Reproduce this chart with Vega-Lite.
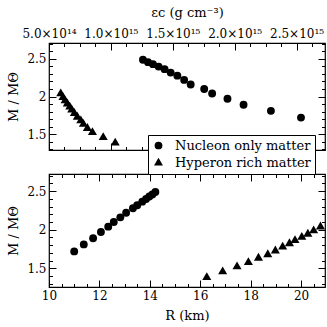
{
  "$schema": "https://vega.github.io/schema/vega-lite/v6.json",
  "padding": {"left": 7, "top": 5, "right": 0, "bottom": 3},
  "background": "white",
  "config": {
    "font": "DejaVu Serif",
    "view": {"stroke": "black", "strokeWidth": 1.2},
    "axis": {"domain": false, "grid": false, "labelFont": "DejaVu Serif", "labelFontSize": 12, "labelColor": "black", "titleFont": "DejaVu Serif", "titleFontSize": 13, "titleFontWeight": "normal", "titleColor": "black", "tickColor": "black", "tickWidth": 1, "labelOverlap": false, "labelFlush": false},
    "legend": {"labelFont": "DejaVu Serif"}
  },
  "data": {"values": [
    {"matter": "Nucleon only matter", "M": 1.72, "eps": 2.536e15, "R": 11.0},
    {"matter": "Nucleon only matter", "M": 1.81, "eps": 2.293e15, "R": 11.38},
    {"matter": "Nucleon only matter", "M": 1.89, "eps": 2.072e15, "R": 11.75},
    {"matter": "Nucleon only matter", "M": 1.97, "eps": 1.942e15, "R": 12.06},
    {"matter": "Nucleon only matter", "M": 2.04, "eps": 1.818e15, "R": 12.35},
    {"matter": "Nucleon only matter", "M": 2.10, "eps": 1.754e15, "R": 12.57},
    {"matter": "Nucleon only matter", "M": 2.16, "eps": 1.645e15, "R": 12.83},
    {"matter": "Nucleon only matter", "M": 2.22, "eps": 1.592e15, "R": 13.06},
    {"matter": "Nucleon only matter", "M": 2.277, "eps": 1.537e15, "R": 13.33},
    {"matter": "Nucleon only matter", "M": 2.317, "eps": 1.483e15, "R": 13.5},
    {"matter": "Nucleon only matter", "M": 2.363, "eps": 1.434e15, "R": 13.7},
    {"matter": "Nucleon only matter", "M": 2.397, "eps": 1.386e15, "R": 13.85},
    {"matter": "Nucleon only matter", "M": 2.429, "eps": 1.34e15, "R": 13.98},
    {"matter": "Nucleon only matter", "M": 2.456, "eps": 1.30e15, "R": 14.1},
    {"matter": "Nucleon only matter", "M": 2.487, "eps": 1.259e15, "R": 14.22},
    {"matter": "Hyperon rich matter", "M": 1.39, "eps": 1.035e15, "R": 16.26},
    {"matter": "Hyperon rich matter", "M": 1.464, "eps": 9.38e14, "R": 16.89},
    {"matter": "Hyperon rich matter", "M": 1.53, "eps": 8.51e14, "R": 17.46},
    {"matter": "Hyperon rich matter", "M": 1.584, "eps": 8.1e14, "R": 17.91},
    {"matter": "Hyperon rich matter", "M": 1.64, "eps": 7.78e14, "R": 18.31},
    {"matter": "Hyperon rich matter", "M": 1.686, "eps": 7.57e14, "R": 18.68},
    {"matter": "Hyperon rich matter", "M": 1.734, "eps": 7.29e14, "R": 18.98},
    {"matter": "Hyperon rich matter", "M": 1.784, "eps": 7.05e14, "R": 19.27},
    {"matter": "Hyperon rich matter", "M": 1.828, "eps": 6.84e14, "R": 19.54},
    {"matter": "Hyperon rich matter", "M": 1.869, "eps": 6.68e14, "R": 19.76},
    {"matter": "Hyperon rich matter", "M": 1.91, "eps": 6.48e14, "R": 20.03},
    {"matter": "Hyperon rich matter", "M": 1.951, "eps": 6.3e14, "R": 20.27},
    {"matter": "Hyperon rich matter", "M": 1.995, "eps": 6.13e14, "R": 20.5},
    {"matter": "Hyperon rich matter", "M": 2.045, "eps": 5.95e14, "R": 20.77}
  ]},
  "spacing": 12,
  "vconcat": [
    {
      "width": 276,
      "height": 107,
      "layer": [
        {
          "mark": {"type": "point", "filled": true, "opacity": 1, "color": "black", "size": 62},
          "encoding": {
            "x": {"field": "eps", "type": "quantitative", "scale": {"domain": [5e14, 2.73e15], "nice": false, "zero": false},
              "axis": {"orient": "top", "title": "εc (g cm⁻³)", "titlePadding": 4, "labelPadding": 10,
                "values": [5e14, 6.25e14, 7.5e14, 8.75e14, 1e15, 1.125e15, 1.25e15, 1.375e15, 1.5e15, 1.625e15, 1.75e15, 1.875e15, 2e15, 2.125e15, 2.25e15, 2.375e15, 2.5e15, 2.625e15],
                "labelExpr": "datum.value % 5e14 == 0 ? (datum.value < 1e15 ? format(datum.value/1e14, '.1f') + '×10¹⁴' : format(datum.value/1e15, '.1f') + '×10¹⁵') : ''",
                "tickSize": {"condition": {"test": "datum.value % 5e14 == 0", "value": -7}, "value": -3.5}}},
            "y": {"field": "M", "type": "quantitative", "scale": {"domain": [1.29, 2.71], "nice": false, "zero": false},
              "axis": {"orient": "left", "title": "M / MΘ", "titlePadding": 6, "labelPadding": 10,
                "values": [1.3, 1.4, 1.5, 1.6, 1.7, 1.8, 1.9, 2.0, 2.1, 2.2, 2.3, 2.4, 2.5, 2.6, 2.7],
                "labelExpr": "datum.value * 2 == round(datum.value * 2) ? format(datum.value, '~g') : ''",
                "tickSize": {"condition": {"test": "datum.value * 2 == round(datum.value * 2)", "value": -7}, "value": -3.5}}},
            "shape": {"field": "matter", "type": "nominal",
              "scale": {"domain": ["Nucleon only matter", "Hyperon rich matter"], "range": ["circle", "M0,-1.2L1.15,0.8L-1.15,0.8Z"]},
              "legend": {"title": null, "orient": "none", "legendX": 99, "legendY": 92, "strokeColor": "black", "fillColor": "white", "padding": 4, "labelFontSize": 13, "labelColor": "black", "symbolFillColor": "black", "symbolStrokeColor": "black", "symbolSize": 60, "rowPadding": 1, "labelOffset": 10}}
          }
        },
        {
          "mark": {"type": "point", "opacity": 0},
          "encoding": {
            "x": {"field": "eps", "type": "quantitative", "scale": {"domain": [5e14, 2.73e15], "nice": false, "zero": false},
              "axis": {"orient": "bottom", "title": null, "labels": false,
                "values": [5e14, 6.25e14, 7.5e14, 8.75e14, 1e15, 1.125e15, 1.25e15, 1.375e15, 1.5e15, 1.625e15, 1.75e15, 1.875e15, 2e15, 2.125e15, 2.25e15, 2.375e15, 2.5e15, 2.625e15],
                "tickSize": {"condition": {"test": "datum.value % 5e14 == 0", "value": -7}, "value": -3.5}}},
            "y": {"field": "M", "type": "quantitative", "scale": {"domain": [1.29, 2.71], "nice": false, "zero": false},
              "axis": {"orient": "right", "title": null, "labels": false,
                "values": [1.3, 1.4, 1.5, 1.6, 1.7, 1.8, 1.9, 2.0, 2.1, 2.2, 2.3, 2.4, 2.5, 2.6, 2.7],
                "tickSize": {"condition": {"test": "datum.value * 2 == round(datum.value * 2)", "value": -7}, "value": -3.5}}}
          }
        }
      ],
      "resolve": {"axis": {"x": "independent", "y": "independent"}}
    },
    {
      "width": 276,
      "height": 113,
      "layer": [
        {
          "mark": {"type": "point", "filled": true, "opacity": 1, "color": "black", "size": 62},
          "encoding": {
            "x": {"field": "R", "type": "quantitative", "scale": {"domain": [10, 20.95], "nice": false, "zero": false},
              "axis": {"orient": "bottom", "title": "R (km)", "titlePadding": 5, "labelPadding": 10,
                "values": [10, 10.5, 11, 11.5, 12, 12.5, 13, 13.5, 14, 14.5, 15, 15.5, 16, 16.5, 17, 17.5, 18, 18.5, 19, 19.5, 20, 20.5],
                "labelExpr": "datum.value % 2 == 0 ? format(datum.value, 'd') : ''",
                "tickSize": {"condition": {"test": "datum.value % 2 == 0", "value": -7}, "value": -3.5}}},
            "y": {"field": "M", "type": "quantitative", "scale": {"domain": [1.26, 2.72], "nice": false, "zero": false},
              "axis": {"orient": "left", "title": "M / MΘ", "titlePadding": 6, "labelPadding": 10,
                "values": [1.3, 1.4, 1.5, 1.6, 1.7, 1.8, 1.9, 2.0, 2.1, 2.2, 2.3, 2.4, 2.5, 2.6, 2.7],
                "labelExpr": "datum.value * 2 == round(datum.value * 2) ? format(datum.value, '~g') : ''",
                "tickSize": {"condition": {"test": "datum.value * 2 == round(datum.value * 2)", "value": -7}, "value": -3.5}}},
            "shape": {"field": "matter", "type": "nominal",
              "scale": {"domain": ["Nucleon only matter", "Hyperon rich matter"], "range": ["circle", "M0,-1.2L1.15,0.8L-1.15,0.8Z"]}}
          }
        },
        {
          "mark": {"type": "point", "opacity": 0},
          "encoding": {
            "x": {"field": "R", "type": "quantitative", "scale": {"domain": [10, 20.95], "nice": false, "zero": false},
              "axis": {"orient": "top", "title": null, "labels": false,
                "values": [10, 10.5, 11, 11.5, 12, 12.5, 13, 13.5, 14, 14.5, 15, 15.5, 16, 16.5, 17, 17.5, 18, 18.5, 19, 19.5, 20, 20.5],
                "tickSize": {"condition": {"test": "datum.value % 2 == 0", "value": -7}, "value": -3.5}}},
            "y": {"field": "M", "type": "quantitative", "scale": {"domain": [1.26, 2.72], "nice": false, "zero": false},
              "axis": {"orient": "right", "title": null, "labels": false,
                "values": [1.3, 1.4, 1.5, 1.6, 1.7, 1.8, 1.9, 2.0, 2.1, 2.2, 2.3, 2.4, 2.5, 2.6, 2.7],
                "tickSize": {"condition": {"test": "datum.value * 2 == round(datum.value * 2)", "value": -7}, "value": -3.5}}}
          }
        }
      ],
      "resolve": {"axis": {"x": "independent", "y": "independent"}}
    }
  ]
}
